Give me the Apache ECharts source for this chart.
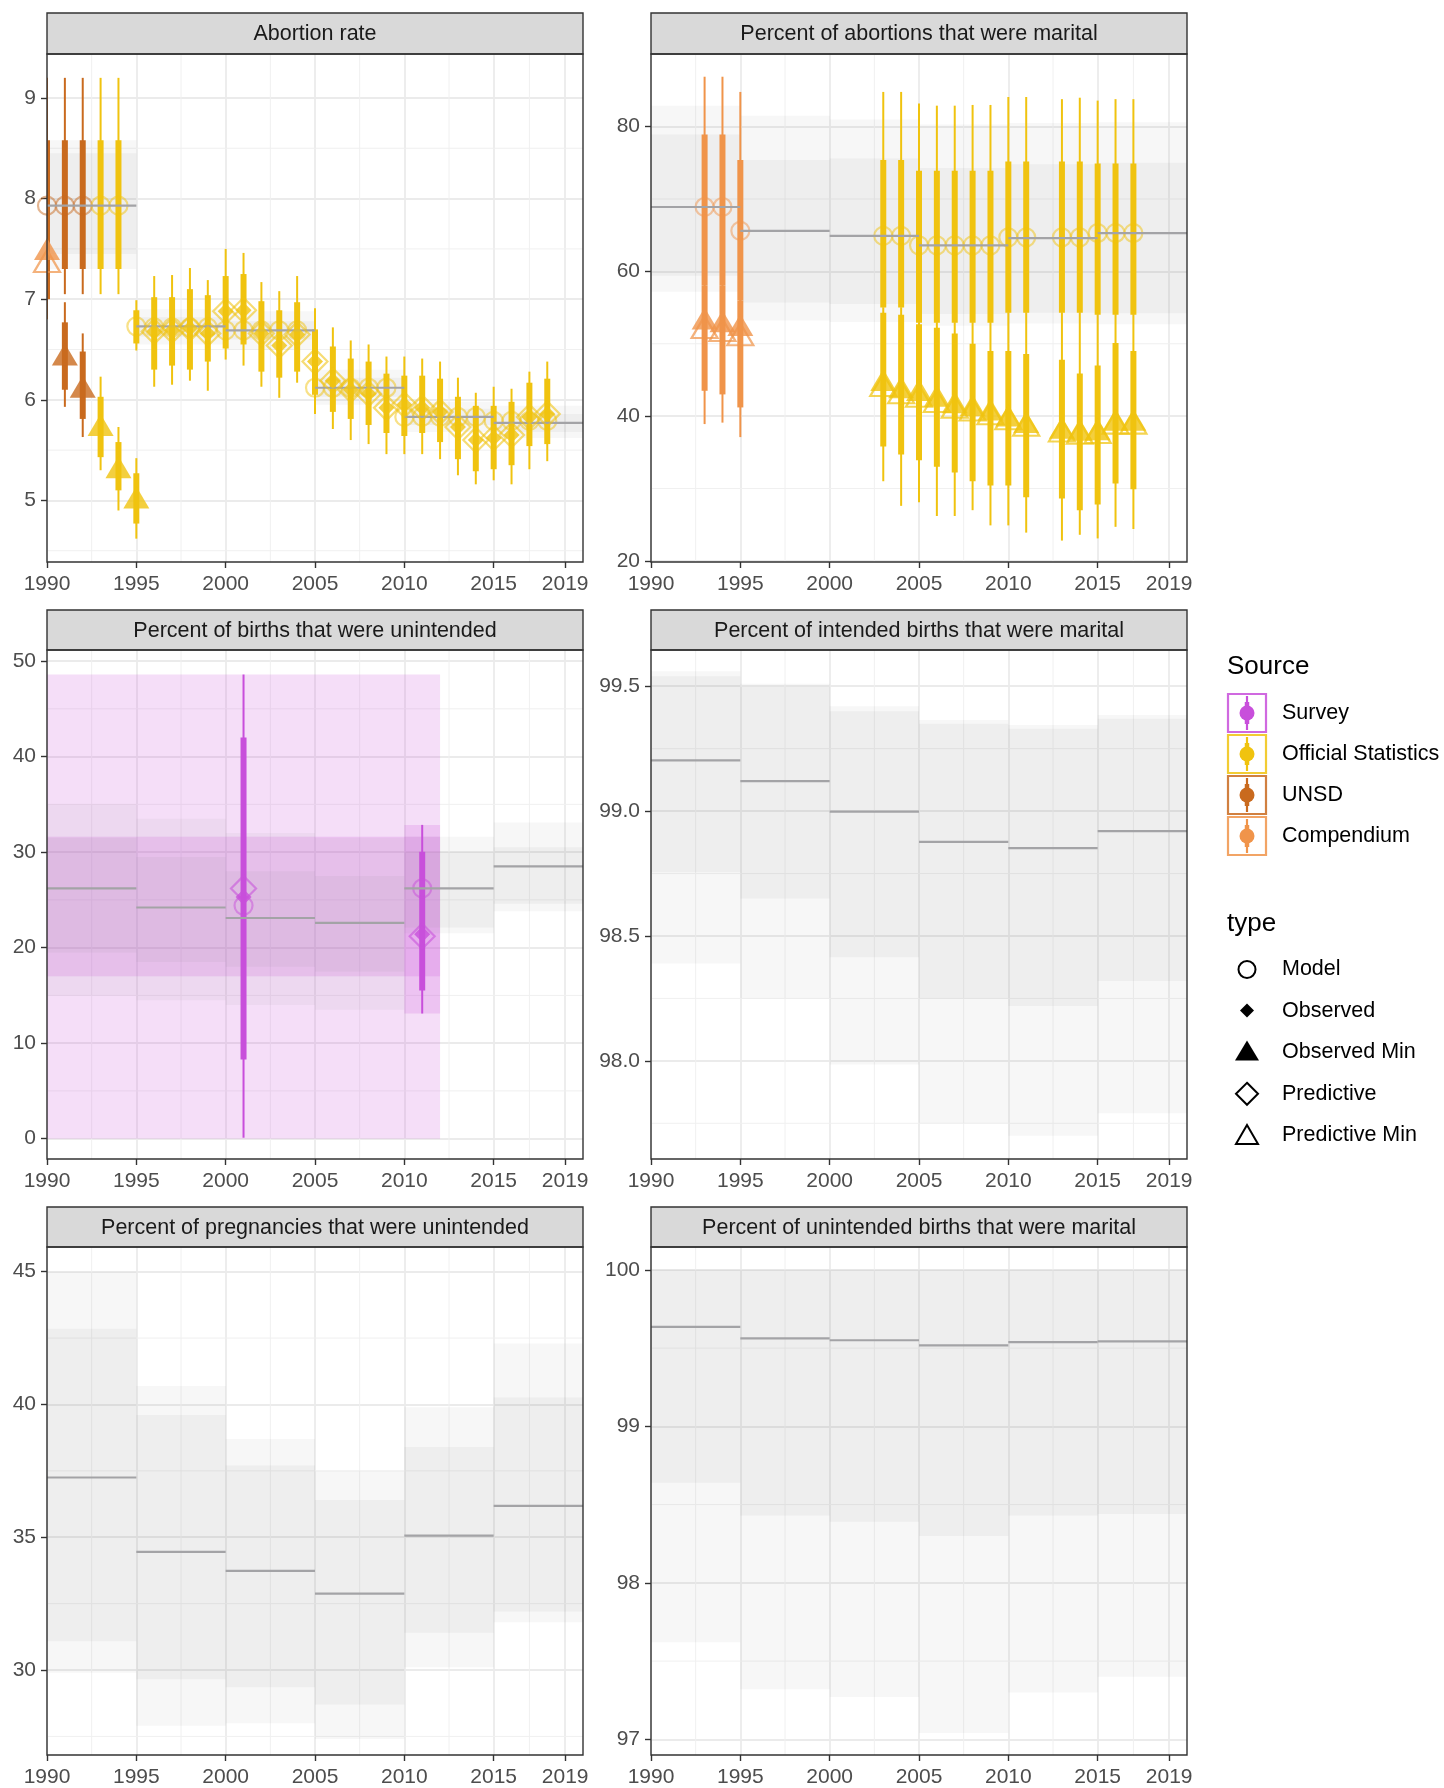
<!DOCTYPE html>
<html><head><meta charset="utf-8">
<script src="https://cdn.jsdelivr.net/npm/echarts@6/dist/echarts.min.js"></script>
<style>html,body{margin:0;padding:0;background:#fff}#c{width:1444px;height:1788px}</style>
</head><body><div id="c"></div>
<script>
// ================= DATA =================
const periodStarts = [1990, 1995, 2000, 2005, 2010, 2015];
const periodEnds   = [1995, 2000, 2005, 2010, 2015, 2020];
const xTicks = [1990, 1995, 2000, 2005, 2010, 2015, 2019];
const xMinor = [1992.5, 1997.5, 2002.5, 2007.5, 2012.5, 2017];
const xRange = [1990, 2020];

const panelTitles = ['Abortion rate', 'Percent of abortions that were marital',
  'Percent of births that were unintended', 'Percent of intended births that were marital',
  'Percent of pregnancies that were unintended', 'Percent of unintended births that were marital'];

const sourceNames  = ['Survey', 'Official Statistics', 'UNSD', 'Compendium'];
const typeNames    = ['Model', 'Observed', 'Observed Min', 'Predictive', 'Predictive Min'];

// ---- Panel 1: Abortion rate ----
const rateYTicks = [5, 6, 7, 8, 9];
const rateYMinor = [4.5, 5.5, 6.5, 7.5, 8.5];
const rateRange  = [4.388, 9.437];
const rateMedian  = [7.93, 6.73, 6.69, 6.12, 5.83, 5.77];
const rateInnerLo = [7.45, 6.63, 6.60, 6.03, 5.75, 5.68];
const rateInnerHi = [8.45, 6.82, 6.78, 6.22, 5.91, 5.86];
const rateOuterLo = [7.30, 6.55, 6.50, 5.95, 5.68, 5.62];
const rateOuterHi = [8.58, 6.90, 6.88, 6.30, 5.98, 5.94];
// [year, source index, value]
const rateModel = [[1990,2,7.93],[1991,2,7.93],[1992,2,7.93],[1993,1,7.93],[1994,1,7.93],
  [1995,1,6.73],[1996,1,6.72],[1997,1,6.72],[1998,1,6.72],[1999,1,6.72],
  [2000,1,6.69],[2001,1,6.69],[2002,1,6.69],[2003,1,6.69],[2004,1,6.69],
  [2005,1,6.12],[2006,1,6.12],[2007,1,6.12],[2008,1,6.12],[2009,1,6.12],
  [2010,1,5.83],[2011,1,5.83],[2012,1,5.83],[2013,1,5.83],[2014,1,5.83],
  [2015,1,5.79],[2016,1,5.79],[2017,1,5.79],[2018,1,5.79]];
const rateObsMin  = [[1990,3,7.50],[1991,2,6.45],[1992,2,6.13],[1993,1,5.75],[1994,1,5.33],[1995,1,5.03]];
const ratePredMin = [[1990,3,7.38]];
const rateObs = [[1996,1,6.68],[1997,1,6.69],[1998,1,6.71],[1999,1,6.66],[2000,1,6.88],[2001,1,6.89],
  [2002,1,6.66],[2003,1,6.54],[2004,1,6.65],[2005,1,6.38],[2006,1,6.19],[2007,1,6.10],[2008,1,6.06],
  [2009,1,5.92],[2010,1,5.95],[2011,1,5.92],[2012,1,5.88],[2013,1,5.73],[2014,1,5.60],[2015,1,5.62],
  [2016,1,5.65],[2017,1,5.83],[2018,1,5.86]];
const ratePred = [[1996,1,6.68],[1997,1,6.69],[1998,1,6.71],[1999,1,6.66],[2000,1,6.88],[2001,1,6.89],
  [2002,1,6.66],[2003,1,6.54],[2004,1,6.65],[2005,1,6.38],[2006,1,6.19],[2007,1,6.10],[2008,1,6.06],
  [2009,1,5.92],[2010,1,5.95],[2011,1,5.92],[2012,1,5.88],[2013,1,5.73],[2014,1,5.60],[2015,1,5.62],
  [2016,1,5.65],[2017,1,5.83],[2018,1,5.86]];
// [year, source, thinLo, thinHi, thickLo, thickHi]
const rateBars = [[1990,2,7.05,9.20,7.30,8.58],[1991,2,7.05,9.20,7.30,8.58],[1992,2,7.05,9.20,7.30,8.58],
  [1993,1,7.05,9.20,7.30,8.58],[1994,1,7.05,9.20,7.30,8.58],[1990,2,6.80,7.30,7.00,7.30],
  [1991,2,5.93,6.97,6.10,6.77],[1992,2,5.63,6.66,5.81,6.48],[1993,1,5.30,6.23,5.43,6.03],
  [1994,1,4.90,5.73,5.10,5.58],[1995,1,4.62,5.42,4.77,5.27],[1995,1,6.49,6.99,6.56,6.89],
  [1996,1,6.13,7.23,6.30,7.02],[1997,1,6.15,7.24,6.34,7.02],[1998,1,6.19,7.31,6.30,7.10],
  [1999,1,6.09,7.19,6.38,7.04],[2000,1,6.40,7.50,6.51,7.23],[2001,1,6.34,7.46,6.55,7.25],
  [2002,1,6.13,7.17,6.28,6.98],[2003,1,6.02,7.08,6.22,6.89],[2004,1,6.17,7.23,6.28,6.97],
  [2005,1,5.86,6.91,6.05,6.70],[2006,1,5.71,6.72,5.88,6.53],[2007,1,5.60,6.59,5.81,6.41],
  [2008,1,5.56,6.55,5.75,6.38],[2009,1,5.46,6.43,5.67,6.26],[2010,1,5.46,6.43,5.64,6.24],
  [2011,1,5.46,6.41,5.67,6.24],[2012,1,5.41,6.38,5.58,6.21],[2013,1,5.25,6.22,5.41,6.03],
  [2014,1,5.16,6.07,5.29,5.94],[2015,1,5.20,6.13,5.31,5.94],[2016,1,5.16,6.11,5.35,5.98],
  [2017,1,5.31,6.28,5.54,6.17],[2018,1,5.39,6.38,5.56,6.21]];

// ---- Panel 2: Percent of abortions that were marital ----
const marYTicks = [20, 40, 60, 80];
const marYMinor = [30, 50, 70, 90];
const marRange  = [19.84, 90.04];
const marMedian  = [68.9, 65.6, 64.9, 63.6, 64.6, 65.3];
const marInnerLo = [59.4, 55.7, 55.5, 54.1, 54.3, 54.2];
const marInnerHi = [78.9, 75.4, 75.6, 74.3, 74.8, 75.0];
const marOuterLo = [57.2, 53.2, 53.0, 52.5, 52.8, 52.7];
const marOuterHi = [82.9, 81.5, 81.0, 80.3, 80.5, 80.6];
const marModel = [[1993,3,68.9],[1994,3,68.9],[1995,3,65.6],[2003,1,64.9],[2004,1,64.9],[2005,1,63.6],
  [2006,1,63.6],[2007,1,63.6],[2008,1,63.6],[2009,1,63.6],[2010,1,64.7],[2011,1,64.7],[2013,1,64.7],
  [2014,1,64.7],[2015,1,65.3],[2016,1,65.3],[2017,1,65.3]];
const marObsMin = [[1993,3,53.5],[1994,3,53.1],[1995,3,52.6],[2003,1,45.0],[2004,1,44.0],[2005,1,43.6],
  [2006,1,42.8],[2007,1,41.9],[2008,1,41.5],[2009,1,40.9],[2010,1,40.1],[2011,1,39.2],[2013,1,38.4],
  [2014,1,38.1],[2015,1,38.2],[2016,1,39.5],[2017,1,39.5]];
const marPredMin = [[1993,3,52.3],[1994,3,51.9],[1995,3,51.3],[2003,1,44.3],[2004,1,43.3],[2005,1,42.8],
  [2006,1,42.1],[2007,1,41.3],[2008,1,40.9],[2009,1,40.4],[2010,1,39.7],[2011,1,38.8],[2013,1,38.0],
  [2014,1,37.7],[2015,1,37.8],[2016,1,39.1],[2017,1,39.1]];
const marBars = [[1993,3,55,86.9,58,78.9],[1993,3,38.9,58,43.5,58],[1994,3,55,86.9,58,78.9],[1994,3,39.1,58,43.0,58],
  [1995,3,53,84.8,56,75.4],[1995,3,37.1,56,41.2,56],
  [2003,1,55.0,84.8,55.0,75.4],[2003,1,31.0,55.0,35.8,54.3],[2004,1,55.0,84.8,55.0,75.4],[2004,1,27.6,55.0,34.7,54.0],
  [2005,1,52.9,83.2,52.9,73.9],[2005,1,28.1,52.9,33.9,52.7],[2006,1,52.9,82.9,52.9,73.9],[2006,1,26.2,52.9,33.0,52.2],
  [2007,1,52.9,82.9,52.9,73.9],[2007,1,26.2,52.9,32.2,51.4],[2008,1,52.9,83.0,52.9,73.9],[2008,1,27.0,52.9,31.0,50.0],
  [2009,1,52.9,83.0,52.9,73.9],[2009,1,24.9,52.9,30.4,49.0],[2010,1,54.3,84.1,54.3,75.2],[2010,1,24.9,54.3,30.4,49.0],
  [2011,1,54.3,84.1,54.3,75.2],[2011,1,23.9,54.3,28.8,48.6],[2013,1,54.3,83.8,54.3,75.2],[2013,1,22.8,54.3,28.6,47.8],
  [2014,1,54.3,84.0,54.3,75.2],[2014,1,23.6,54.3,27.0,45.9],[2015,1,54.0,83.6,54.0,74.9],[2015,1,23.1,54.0,27.8,47.0],
  [2016,1,54.0,83.8,54.0,74.9],[2016,1,24.7,54.0,30.7,50.1],[2017,1,54.0,83.8,54.0,74.9],[2017,1,24.4,54.0,29.9,49.0]];

// ---- Panel 3: Percent of births that were unintended ----
const unbYTicks = [0, 10, 20, 30, 40, 50];
const unbYMinor = [5, 15, 25, 35, 45];
const unbRange  = [-2.13, 51.16];
const unbMedian  = [26.2, 24.2, 23.1, 22.6, 26.2, 28.5];
const unbInnerLo = [19.5, 18.5, 18.0, 17.5, 22.1, 24.6];
const unbInnerHi = [31.5, 29.5, 28.0, 27.5, 30.0, 30.5];
const unbOuterLo = [15.0, 14.5, 14.0, 13.5, 21.5, 23.8];
const unbOuterHi = [35.0, 33.5, 32.0, 31.5, 31.6, 33.1];
// survey reference-period rectangles [x0, x1, lo, hi]
const unbSurveyRects = [[1990, 2012, 0, 48.6], [1990, 2012, 17.0, 31.6], [2010, 2012, 13.1, 32.85]];
const unbModel = [[2001,0,24.4],[2011,0,26.2]];
const unbObs   = [[2001,0,25.3],[2011,0,21.4]];
const unbPred  = [[2001,0,26.2],[2011,0,21.2]];
const unbBars  = [[2001,0,0.1,48.6,8.3,42.0],[2011,0,13.1,32.85,15.5,30.05]];

// ---- Panel 4: Percent of intended births that were marital ----
const ibmYTicks = [98.0, 98.5, 99.0, 99.5];
const ibmYMinor = [97.75, 98.25, 98.75, 99.25];
const ibmRange  = [97.607, 99.645];
const ibmMedian  = [99.203, 99.12, 98.998, 98.877, 98.852, 98.92];
const ibmInnerLo = [98.755, 98.65, 98.415, 98.25, 98.22, 98.32];
const ibmInnerHi = [99.54, 99.497, 99.40, 99.35, 99.33, 99.37];
const ibmOuterLo = [98.39, 98.25, 97.985, 97.75, 97.70, 97.79];
const ibmOuterHi = [99.56, 99.51, 99.42, 99.365, 99.345, 99.385];

// ---- Panel 5: Percent of pregnancies that were unintended ----
const pguYTicks = [30, 35, 40, 45];
const pguYMinor = [27.5, 32.5, 37.5, 42.5];
const pguRange  = [26.8, 45.93];
const pguMedian  = [37.25, 34.45, 33.73, 32.88, 35.06, 36.18];
const pguInnerLo = [31.08, 29.65, 29.35, 28.7, 31.4, 32.2];
const pguInnerHi = [42.85, 39.6, 37.7, 36.4, 38.4, 40.26];
const pguOuterLo = [29.9, 27.9, 28.0, 27.4, 30.1, 31.8];
const pguOuterHi = [45.0, 40.7, 38.7, 37.5, 39.9, 42.3];

// ---- Panel 6: Percent of unintended births that were marital ----
const ubmYTicks = [97, 98, 99, 100];
const ubmYMinor = [97.5, 98.5, 99.5];
const ubmRange  = [96.90, 100.146];
const ubmMedian  = [99.635, 99.562, 99.55, 99.518, 99.538, 99.543];
const ubmInnerLo = [98.64, 98.43, 98.39, 98.30, 98.43, 98.44];
const ubmInnerHi = [100, 100, 100, 100, 100, 100];
const ubmOuterLo = [97.62, 97.32, 97.27, 97.04, 97.30, 97.40];
const ubmOuterHi = [100, 100, 100, 100, 100, 100];

// ================= STYLE / LAYOUT =================
const FONT = '"Liberation Sans", Arial, Helvetica, sans-serif';
const sourceColors = ['#C84FDB', '#F0C30F', '#C96A1E', '#F0944A'];
const colLeft = [47, 651];
const plotW = 536;
const rowTop = [54, 650, 1247];
const plotH = [508, 509, 508];
const stripTop = [13, 610, 1207];

function rgba(hex, a) {
  const n = parseInt(hex.slice(1), 16);
  return `rgba(${(n >> 16) & 255},${(n >> 8) & 255},${n & 255},${a})`;
}

const panels = [
  {yTicks: rateYTicks, yMinor: rateYMinor, yRange: rateRange, dec: 0, med: rateMedian, iLo: rateInnerLo, iHi: rateInnerHi, oLo: rateOuterLo, oHi: rateOuterHi,
   model: rateModel, obs: rateObs, pred: ratePred, obsMin: rateObsMin, predMin: ratePredMin, bars: rateBars},
  {yTicks: marYTicks, yMinor: marYMinor, yRange: marRange, dec: 0, med: marMedian, iLo: marInnerLo, iHi: marInnerHi, oLo: marOuterLo, oHi: marOuterHi,
   model: marModel, obs: [], pred: [], obsMin: marObsMin, predMin: marPredMin, bars: marBars},
  {yTicks: unbYTicks, yMinor: unbYMinor, yRange: unbRange, dec: 0, med: unbMedian, iLo: unbInnerLo, iHi: unbInnerHi, oLo: unbOuterLo, oHi: unbOuterHi,
   model: unbModel, obs: unbObs, pred: unbPred, obsMin: [], predMin: [], bars: unbBars, rects: unbSurveyRects},
  {yTicks: ibmYTicks, yMinor: ibmYMinor, yRange: ibmRange, dec: 1, med: ibmMedian, iLo: ibmInnerLo, iHi: ibmInnerHi, oLo: ibmOuterLo, oHi: ibmOuterHi,
   model: [], obs: [], pred: [], obsMin: [], predMin: [], bars: []},
  {yTicks: pguYTicks, yMinor: pguYMinor, yRange: pguRange, dec: 0, med: pguMedian, iLo: pguInnerLo, iHi: pguInnerHi, oLo: pguOuterLo, oHi: pguOuterHi,
   model: [], obs: [], pred: [], obsMin: [], predMin: [], bars: []},
  {yTicks: ubmYTicks, yMinor: ubmYMinor, yRange: ubmRange, dec: 0, med: ubmMedian, iLo: ubmInnerLo, iHi: ubmInnerHi, oLo: ubmOuterLo, oHi: ubmOuterHi,
   model: [], obs: [], pred: [], obsMin: [], predMin: [], bars: []}
];

const grids = [], xAxes = [], yAxes = [], series = [], graphics = [];

panels.forEach((p, gi) => {
  const col = gi % 2, row = Math.floor(gi / 2);
  const left = colLeft[col], top = rowTop[row], h = plotH[row];
  grids.push({left: left, top: top, width: plotW, height: h, show: false, containLabel: false});
  xAxes.push({
    type: 'value', gridIndex: gi, min: xRange[0], max: xRange[1],
    axisLine: {show: false, onZero: false},
    axisTick: {show: true, customValues: xTicks, length: 6, lineStyle: {color: '#333', width: 1.4}},
    axisLabel: {customValues: xTicks, color: '#4D4D4D', fontSize: 21, fontFamily: FONT, margin: 12,
      formatter: (v) => String(Math.round(v))},
    splitLine: {show: true, lineStyle: {color: '#EBEBEB', width: 1.8}}
  });
  yAxes.push({
    type: 'value', gridIndex: gi, min: p.yRange[0], max: p.yRange[1],
    axisLine: {show: false, onZero: false},
    axisTick: {show: true, customValues: p.yTicks, length: 6, lineStyle: {color: '#333', width: 1.4}},
    axisLabel: {customValues: p.yTicks, color: '#4D4D4D', fontSize: 21, fontFamily: FONT, margin: 11,
      formatter: (v) => Number(v).toFixed(p.dec)},
    splitLine: {show: true, lineStyle: {color: '#EBEBEB', width: 1.8}}
  });

  const base = {xAxisIndex: gi, yAxisIndex: gi, silent: true, animation: false};

  // minor grid lines
  series.push(Object.assign({}, base, {
    type: 'custom', z: 1, data: xMinor.map(v => [v, p.yRange[0]]),
    renderItem(params, api) {
      const cs = params.coordSys;
      const px = api.coord([api.value(0), api.value(1)])[0];
      return {type: 'line', shape: {x1: px, y1: cs.y, x2: px, y2: cs.y + cs.height}, style: {stroke: '#F0F0F0', lineWidth: 1}};
    }
  }));
  series.push(Object.assign({}, base, {
    type: 'custom', z: 1, data: p.yMinor.map(v => [xRange[0], v]),
    renderItem(params, api) {
      const cs = params.coordSys;
      const py = api.coord([api.value(0), api.value(1)])[1];
      return {type: 'line', shape: {x1: cs.x, y1: py, x2: cs.x + cs.width, y2: py}, style: {stroke: '#F0F0F0', lineWidth: 1}};
    }
  }));

  const rectRender = (fill) => function (params, api) {
    const a = api.coord([api.value(0), api.value(3)]);
    const b = api.coord([api.value(1), api.value(2)]);
    return {type: 'rect', shape: {x: a[0], y: a[1], width: b[0] - a[0], height: b[1] - a[1]}, style: {fill: fill}};
  };

  // survey reference rectangles
  if (p.rects) {
    series.push(Object.assign({}, base, {
      type: 'custom', z: 2, clip: true, data: p.rects, encode: {x: [0, 1], y: [2, 3]},
      renderItem: rectRender(rgba(sourceColors[0], 0.19))
    }));
  }
  // model uncertainty bands
  series.push(Object.assign({}, base, {
    type: 'custom', z: 3, clip: true, encode: {x: [0, 1], y: [2, 3]},
    data: periodStarts.map((s, i) => [s, periodEnds[i], p.oLo[i], p.oHi[i]]),
    renderItem: rectRender('rgba(128,128,128,0.065)')
  }));
  series.push(Object.assign({}, base, {
    type: 'custom', z: 3, clip: true, encode: {x: [0, 1], y: [2, 3]},
    data: periodStarts.map((s, i) => [s, periodEnds[i], p.iLo[i], p.iHi[i]]),
    renderItem: rectRender('rgba(128,128,128,0.07)')
  }));

  // error bars
  if (p.bars.length) {
    series.push(Object.assign({}, base, {
      type: 'custom', z: 5, clip: true, data: p.bars, encode: {x: 0, y: [2, 3, 4, 5]},
      renderItem(params, api) {
        const x = api.value(0), c = sourceColors[api.value(1)];
        const a = api.coord([x, api.value(2)]), b = api.coord([x, api.value(3)]);
        const d = api.coord([x, api.value(4)]), e = api.coord([x, api.value(5)]);
        return {type: 'group', children: [
          {type: 'line', shape: {x1: a[0], y1: a[1], x2: b[0], y2: b[1]}, style: {stroke: c, lineWidth: 2}},
          {type: 'line', shape: {x1: d[0], y1: d[1], x2: e[0], y2: e[1]}, style: {stroke: c, lineWidth: 6}}
        ]};
      }
    }));
  }

  const pts = (arr, hollow, alpha) => arr.map(r => ({
    value: [r[0], r[2]],
    itemStyle: hollow
      ? {color: 'rgba(255,255,255,0)', borderColor: rgba(sourceColors[r[1]], alpha), borderWidth: 2.2}
      : {color: sourceColors[r[1]], borderWidth: 0}
  }));

  // model circles
  if (p.model.length) series.push(Object.assign({}, base, {type: 'scatter', z: 6, clip: false, symbol: 'circle', symbolSize: 18, data: pts(p.model, true, 0.62)}));

  // median step lines
  series.push(Object.assign({}, base, {
    type: 'custom', z: 7, clip: true, encode: {x: [0, 1], y: 2},
    data: periodStarts.map((s, i) => [s, periodEnds[i], p.med[i]]),
    renderItem(params, api) {
      const a = api.coord([api.value(0), api.value(2)]);
      const b = api.coord([api.value(1), api.value(2)]);
      return {type: 'line', shape: {x1: a[0], y1: a[1], x2: b[0], y2: b[1]}, style: {stroke: '#A3A3A6', lineWidth: 2.2}};
    }
  }));

  if (p.predMin.length) series.push(Object.assign({}, base, {type: 'scatter', z: 8, symbol: 'triangle', symbolSize: [26, 22], data: pts(p.predMin, true, 0.9)}));
  if (p.obsMin.length) series.push(Object.assign({}, base, {type: 'scatter', z: 9, symbol: 'triangle', symbolSize: [26, 22], data: pts(p.obsMin, false)}));
  if (p.pred.length) series.push(Object.assign({}, base, {type: 'scatter', z: 8, symbol: 'diamond', symbolSize: 25, data: pts(p.pred, true, 0.72)}));
  if (p.obs.length) series.push(Object.assign({}, base, {type: 'scatter', z: 9, symbol: 'diamond', symbolSize: 16, data: pts(p.obs, false)}));

  // strip + panel border
  const sTop = stripTop[row];
  graphics.push({type: 'rect', z: 50, shape: {x: left, y: sTop, width: plotW, height: top - sTop},
    style: {fill: '#D9D9D9', stroke: '#333', lineWidth: 1.4}});
  graphics.push({type: 'text', z: 51, style: {text: panelTitles[gi], x: left + plotW / 2, y: (sTop + top) / 2 + 1,
    align: 'center', verticalAlign: 'middle', font: `21.5px ${FONT}`, fill: '#1A1A1A'}});
  graphics.push({type: 'rect', z: 50, shape: {x: left, y: top, width: plotW, height: h},
    style: {fill: 'none', stroke: '#333', lineWidth: 1.4}});
});

// ================= LEGEND (layout graphics) =================
const legX = 1227;
graphics.push({type: 'text', z: 60, style: {text: 'Source', x: legX, y: 667, align: 'left', verticalAlign: 'middle', font: `26px ${FONT}`, fill: '#000'}});
const keyCY = [713, 754, 795, 836];
sourceNames.forEach((name, i) => {
  const cy = keyCY[i], c = sourceColors[i];
  graphics.push({type: 'rect', z: 60, shape: {x: legX + 1, y: cy - 19, width: 38, height: 38}, style: {fill: 'none', stroke: rgba(c, 0.85), lineWidth: 2.2}});
  graphics.push({type: 'line', z: 61, shape: {x1: legX + 20, y1: cy - 17, x2: legX + 20, y2: cy + 17}, style: {stroke: c, lineWidth: 2.2}});
  graphics.push({type: 'line', z: 61, shape: {x1: legX + 20, y1: cy - 11, x2: legX + 20, y2: cy + 11}, style: {stroke: c, lineWidth: 4.5}});
  graphics.push({type: 'circle', z: 62, shape: {cx: legX + 20, cy: cy, r: 7.5}, style: {fill: c}});
  graphics.push({type: 'text', z: 60, style: {text: name, x: 1282, y: cy, align: 'left', verticalAlign: 'middle', font: `21.5px ${FONT}`, fill: '#000'}});
});
graphics.push({type: 'text', z: 60, style: {text: 'type', x: legX, y: 924, align: 'left', verticalAlign: 'middle', font: `26px ${FONT}`, fill: '#000'}});
const typeCY = [969.5, 1010.6, 1051.6, 1093.8, 1134.9];
const sx = 1247;
typeNames.forEach((name, i) => {
  const cy = typeCY[i];
  let g;
  if (i === 0) g = {type: 'circle', shape: {cx: sx, cy: cy, r: 8.5}, style: {fill: 'none', stroke: '#000', lineWidth: 2}};
  if (i === 1) g = {type: 'polygon', shape: {points: [[sx, cy - 7], [sx + 7, cy], [sx, cy + 7], [sx - 7, cy]]}, style: {fill: '#000'}};
  if (i === 2) g = {type: 'polygon', shape: {points: [[sx, cy - 11], [sx + 12, cy + 9], [sx - 12, cy + 9]]}, style: {fill: '#000'}};
  if (i === 3) g = {type: 'polygon', shape: {points: [[sx, cy - 11], [sx + 11, cy], [sx, cy + 11], [sx - 11, cy]]}, style: {fill: 'none', stroke: '#000', lineWidth: 2}};
  if (i === 4) g = {type: 'polygon', shape: {points: [[sx, cy - 10], [sx + 11, cy + 9], [sx - 11, cy + 9]]}, style: {fill: 'none', stroke: '#000', lineWidth: 2}};
  g.z = 60;
  graphics.push(g);
  graphics.push({type: 'text', z: 60, style: {text: name, x: 1282, y: cy, align: 'left', verticalAlign: 'middle', font: `21.5px ${FONT}`, fill: '#000'}});
});

const chart = echarts.init(document.getElementById('c'), null, {renderer: 'canvas'});
chart.setOption({
  animation: false,
  backgroundColor: '#fff',
  textStyle: {fontFamily: FONT},
  grid: grids, xAxis: xAxes, yAxis: yAxes, series: series,
  graphic: {elements: graphics}
});
</script></body></html>
